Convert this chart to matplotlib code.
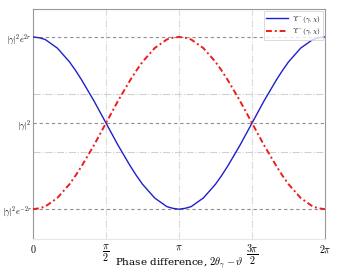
import numpy as np
import matplotlib
matplotlib.use("Agg")
import matplotlib.pyplot as plt

plt.rcParams['mathtext.fontset'] = 'cm'
plt.rcParams['font.family'] = ['DejaVu Serif']

# phase samples (in units of pi/24) and read-off normalised curve values
phase_steps = list(range(49))
upsilon_minus = [1.00, 0.99, 0.97, 0.92, 0.87, 0.79, 0.71, 0.61, 0.50, 0.38, 0.26, 0.13, 0.00,
                 -0.13, -0.26, -0.38, -0.50, -0.61, -0.71, -0.79, -0.87, -0.92, -0.97, -0.99, -1.00,
                 -0.99, -0.97, -0.92, -0.87, -0.79, -0.71, -0.61, -0.50, -0.38, -0.26, -0.13, 0.00,
                 0.13, 0.26, 0.38, 0.50, 0.61, 0.71, 0.79, 0.87, 0.92, 0.97, 0.99, 1.00]
upsilon_plus = [-1.00, -0.99, -0.97, -0.92, -0.87, -0.79, -0.71, -0.61, -0.50, -0.38, -0.26, -0.13, 0.00,
                0.13, 0.26, 0.38, 0.50, 0.61, 0.71, 0.79, 0.87, 0.92, 0.97, 0.99, 1.00,
                0.99, 0.97, 0.92, 0.87, 0.79, 0.71, 0.61, 0.50, 0.38, 0.26, 0.13, 0.00,
                -0.13, -0.26, -0.38, -0.50, -0.61, -0.71, -0.79, -0.87, -0.92, -0.97, -0.99, -1.00]

ytick_vals = [-1.0, 0.0, 1.0]
ytick_labels = [r'$|\gamma|^2e^{-2r}$', r'$|\gamma|^2$', r'$|\gamma|^2e^{2r}$']
ygrid_vals = [-1/3, 1/3]
xtick_vals = [0, np.pi/2, np.pi, 3*np.pi/2, 2*np.pi]
xtick_labels = [r'$0$', r'$\dfrac{\pi}{2}$', r'$\pi$', r'$\dfrac{3\pi}{2}$', r'$2\pi$']
legend_labels = [r'$\Upsilon^{-}(\gamma,\chi)$', r'$\Upsilon^{-}(\gamma,\chi)$']

phase = [k * np.pi / 24 for k in phase_steps]

fig = plt.figure(figsize=(3.4, 2.72), dpi=100)
ax = fig.add_axes([0.097, 0.121, 0.859, 0.846])

for xv in xtick_vals[1:-1]:
    ax.axvline(xv, color='#dcdcdc', lw=0.8, ls='-.', zorder=0)
for yv in ygrid_vals:
    ax.axhline(yv, color='#d0d0d0', lw=0.8, ls='-.', zorder=0)
for yv in ytick_vals:
    ax.axhline(yv, color='#909090', lw=0.8, ls=(0, (3, 2.5)), zorder=1)

ax.plot(phase, upsilon_minus, color='#1f1fcc', lw=1.0, label=legend_labels[0], zorder=3)
ax.plot(phase, upsilon_plus, color='#ee1c1c', lw=1.4, ls=(0, (3, 1.5, 1, 1.5)),
        label=legend_labels[1], zorder=3)

ax.set_xlim(0, 2*np.pi)
ax.set_ylim(-1.347, 1.324)
ax.set_xticks(xtick_vals)
ax.set_xticklabels(xtick_labels, fontsize=7.2, va='top')
ax.set_yticks(ytick_vals)
ax.set_yticklabels(ytick_labels, fontsize=6.2)
ax.tick_params(axis='x', length=0, pad=3)
ax.tick_params(axis='y', length=0, pad=1)
ax.set_xlabel(r'Phase difference, $2\theta_\gamma - \vartheta$', fontsize=7.5,
              fontfamily='DejaVu Serif', va='center')
ax.xaxis.set_label_coords(0.5, -0.104)

for side in ['left', 'right', 'top']:
    ax.spines[side].set_color('#999999')
    ax.spines[side].set_linewidth(0.8)
ax.spines['bottom'].set_color('#e6e6e6')
ax.spines['bottom'].set_linewidth(0.8)

leg = ax.legend(loc='upper right', fontsize=5.2, frameon=True, fancybox=False,
                handlelength=3.0, borderpad=0.35, labelspacing=0.2, borderaxespad=0.3,
                handletextpad=0.5)
leg.get_frame().set_edgecolor('#cccccc')
leg.get_frame().set_linewidth(0.6)

fig.savefig('out.png', dpi=100)
